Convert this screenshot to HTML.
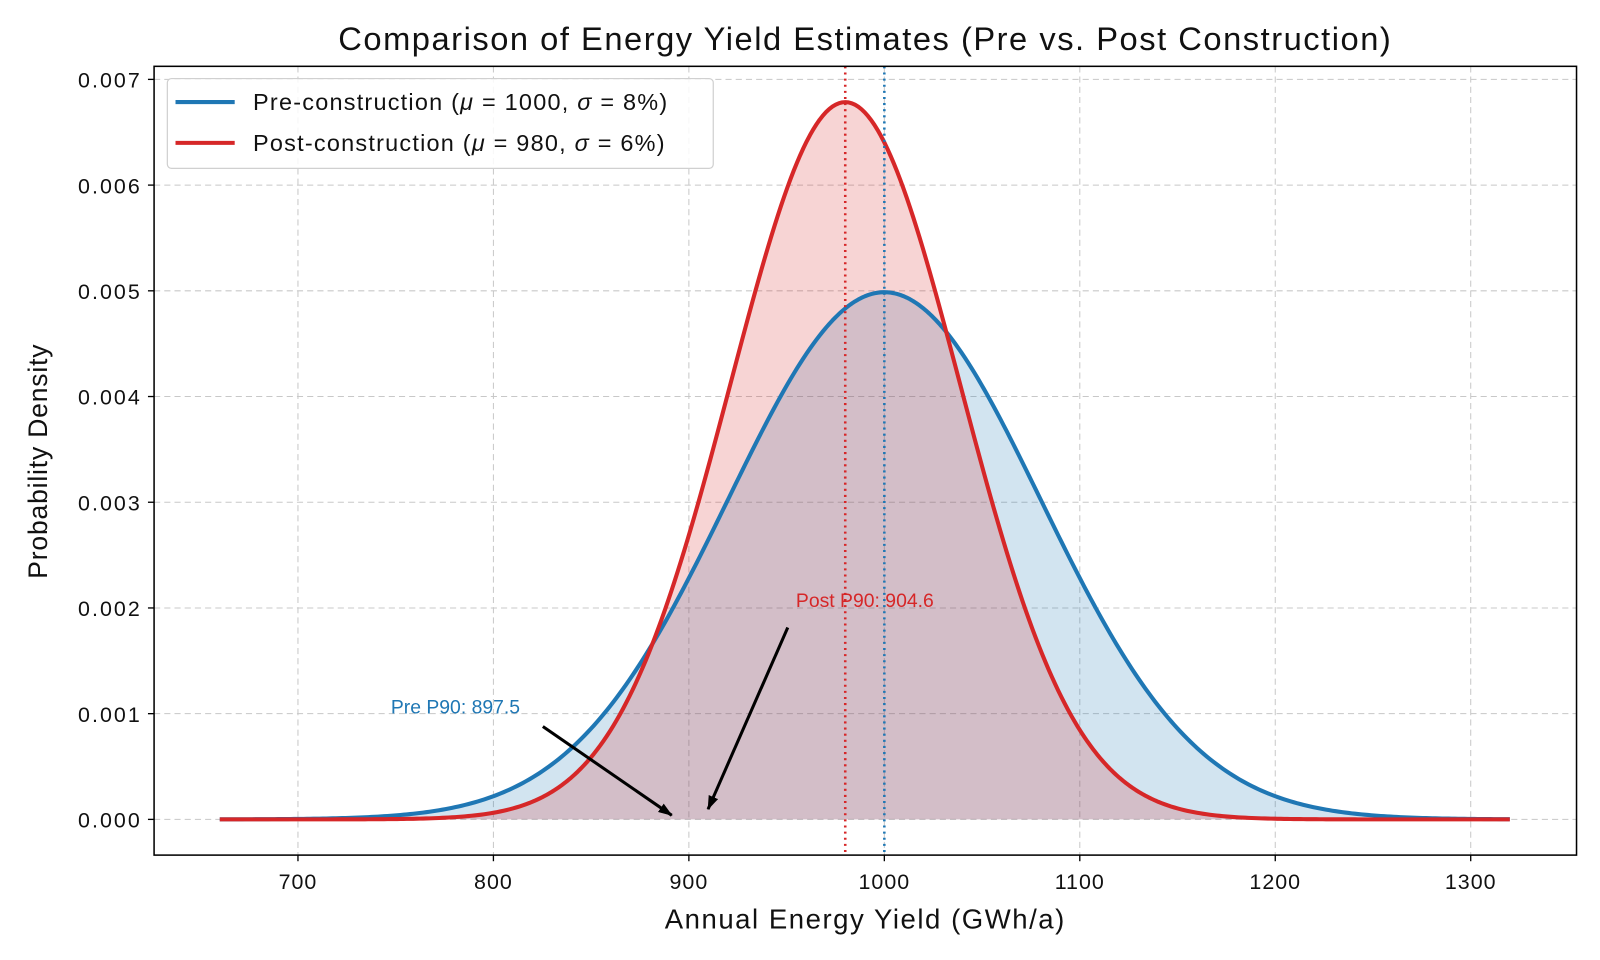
<!DOCTYPE html>
<html><head><meta charset="utf-8"><style>
html,body{margin:0;padding:0;background:#fff;}
svg{display:block;font-family:"Liberation Sans",sans-serif;}
</style></head><body>
<svg id="chart" width="1600" height="960" viewBox="0 0 1568 940.8" preserveAspectRatio="none"></svg>
<script>
const seriesNames = ["Pre-construction", "Post-construction"];
const seriesMeans = [1000, 980];
const seriesSigmas = [80, 58.8];
const seriesColors = ["#1f77b4", "#d62728"];
const xTicks = [700, 800, 900, 1000, 1100, 1200, 1300];
const yTicks = [0, 0.001, 0.002, 0.003, 0.004, 0.005, 0.006, 0.007];
const yTickLabels = ["0.000","0.001","0.002","0.003","0.004","0.005","0.006","0.007"];
const xRange = [660, 1320];
const p90Labels = ["Pre P90: 897.5", "Post P90: 904.6"];
const p90Values = [897.5, 904.6];

const NS = "http://www.w3.org/2000/svg";
const svg = document.getElementById("chart");
const L=151, R=1545, T=65, B=838;
const X = v => 292 + (v-700)*1.9155;
const Y = v => 803 - v*103600;
function el(tag, attrs, parent){const e=document.createElementNS(NS,tag);for(const k in attrs)e.setAttribute(k,attrs[k]);(parent||svg).appendChild(e);return e;}
function pdf(x,m,s){return Math.exp(-0.5*((x-m)/s)**2)/(s*Math.sqrt(2*Math.PI));}

const grid = el("g",{});


xTicks.forEach(t=>{el("line",{x1:X(t),x2:X(t),y1:T,y2:B,stroke:"#c8c8c8","stroke-dasharray":"6,4","stroke-width":1},grid);});
yTicks.forEach(t=>{el("line",{x1:L,x2:R,y1:Y(t),y2:Y(t),stroke:"#c8c8c8","stroke-dasharray":"6,4","stroke-width":1},grid);});

const N=400;
const pts = seriesMeans.map((m,i)=>{const a=[];for(let k=0;k<=N;k++){const x=xRange[0]+(xRange[1]-xRange[0])*k/N;a.push([X(x),Y(pdf(x,m,seriesSigmas[i]))]);}return a;});
pts.forEach((a,i)=>{
  const d="M"+a.map(p=>p[0].toFixed(2)+","+p[1].toFixed(2)).join("L");
  const f=el("path",{d:d+`L${X(xRange[1])},${Y(0)}L${X(xRange[0])},${Y(0)}Z`,fill:seriesColors[i],"fill-opacity":0.2,stroke:"none"});
  
  
});
pts.forEach((a,i)=>{
  const d="M"+a.map(p=>p[0].toFixed(2)+","+p[1].toFixed(2)).join("L");
  const p=el("path",{d:d,fill:"none",stroke:seriesColors[i],"stroke-width":4,"stroke-linejoin":"round"});
  
  
});
[1,0].forEach(i=>{
  const l=el("line",{x1:X(seriesMeans[i]),x2:X(seriesMeans[i]),y1:T,y2:B,stroke:seriesColors[i],"stroke-width":2.5,"stroke-dasharray":"2,4"});
  
  
});

el("defs",{}).innerHTML='<marker id="ah" markerWidth="14" markerHeight="10" refX="13" refY="5" orient="auto" markerUnits="userSpaceOnUse" viewBox="0 0 14 10"><path d="M0,0L14,5L0,10Z" fill="#000"/></marker>';
const a1=el("line",{x1:532,y1:712,x2:X(p90Values[0])-12,y2:Y(0)-4,stroke:"#000","stroke-width":3,"marker-end":"url(#ah)"});

const t1=el("text",{x:383,y:699,fill:"#1f77b4","font-size":19});t1.textContent=p90Labels[0];

const a2=el("line",{x1:772,y1:615,x2:X(p90Values[1])+10,y2:Y(0)-10,stroke:"#000","stroke-width":3,"marker-end":"url(#ah)"});

const t2=el("text",{x:780,y:595,fill:"#d62728","font-size":19});t2.textContent=p90Labels[1];


const fr=el("rect",{x:L,y:T,width:R-L,height:B-T,fill:"none",stroke:"#000","stroke-width":1.5});


xTicks.forEach(t=>{
  el("line",{x1:X(t),x2:X(t),y1:B,y2:B+6,stroke:"#000","stroke-width":1.3});
  const tx=el("text",{x:X(t),y:B+33,"text-anchor":"middle","font-size":21,"letter-spacing":1,fill:"#111"});tx.textContent=t;
  
});
yTicks.forEach((t,i)=>{
  el("line",{x1:L-6,x2:L,y1:Y(t),y2:Y(t),stroke:"#000","stroke-width":1.3});
  const tx=el("text",{x:L-12,y:Y(t)+8,"text-anchor":"end","font-size":21,"letter-spacing":2,fill:"#111"});tx.textContent=yTickLabels[i];
  
});

const lg=el("g",{});

el("rect",{x:164,y:77,width:535,height:88,rx:4,fill:"#fff","fill-opacity":0.85,stroke:"#d0d0d0","stroke-width":1.2},lg);
const legTexts=["Pre-construction (<tspan font-style='italic'>μ</tspan> = 1000, <tspan font-style='italic'>σ</tspan> = 8%)","Post-construction (<tspan font-style='italic'>μ</tspan> = 980, <tspan font-style='italic'>σ</tspan> = 6%)"];
seriesNames.forEach((n,i)=>{
  const y=100+i*40;
  el("line",{x1:172,x2:230,y1:y,y2:y,stroke:seriesColors[i],"stroke-width":4},lg);
  const tx=el("text",{x:248,y:y+8,"font-size":23,"letter-spacing":1.2,fill:"#111"},lg);tx.innerHTML=legTexts[i];
  
});

const tt=el("text",{x:848,y:49,"text-anchor":"middle","font-size":32,"letter-spacing":1.5,fill:"#111"});tt.textContent="Comparison of Energy Yield Estimates (Pre vs. Post Construction)";

const xt=el("text",{x:848,y:910,"text-anchor":"middle","font-size":27,"letter-spacing":1.5,fill:"#111"});xt.textContent="Annual Energy Yield (GWh/a)";

const yt=el("text",{x:46,y:452,"text-anchor":"middle","font-size":26,"letter-spacing":0.8,fill:"#111",transform:"rotate(-90 46 452)"});yt.textContent="Probability Density";

</script>
</body></html>
